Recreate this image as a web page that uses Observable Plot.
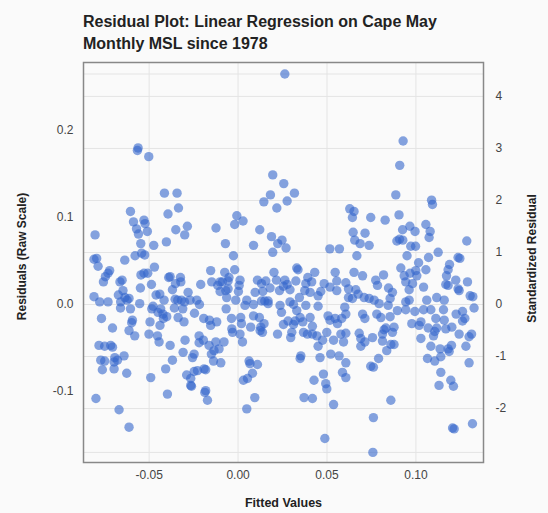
<!DOCTYPE html>
<html><head><meta charset="utf-8">
<script src="https://cdn.jsdelivr.net/npm/d3@7"></script>
<script src="https://cdn.jsdelivr.net/npm/@observablehq/plot@0.6"></script>
<style>
body{margin:0;background:#fafafa;font-family:"Liberation Sans",Arial,sans-serif;}
#title{position:absolute;left:83px;top:11px;font-size:16px;font-weight:bold;line-height:22px;color:#222;}
#chart{position:absolute;left:0;top:54px;}
</style></head><body>
<div id="title">Residual Plot: Linear Regression on Cape May<br>Monthly MSL since 1978</div>
<div id="chart"></div>
<script>
// [fitted value, residual] pairs
const residualPoints = [
[-0.0562,0.180],[-0.0566,0.177],[-0.0502,0.170],[-0.0414,0.128],[-0.0343,0.128],[0.0263,0.265],[0.0195,0.149],[0.0257,0.139],[0.0182,0.126],[0.0317,0.128],[0.0145,0.118],[0.0276,0.119],[0.0218,0.111],[0.0928,0.188],[0.0909,0.160],[0.0887,0.126],[0.1088,0.120],
[-0.0335,0.111],[-0.0605,0.107],[-0.0394,0.104],[-0.0804,0.080],[-0.0588,0.095],[-0.0529,0.097],[-0.0523,0.093],[-0.0571,0.087],[-0.0560,0.081],[-0.0510,0.084],[-0.0285,0.090],[-0.0350,0.086],[-0.0300,0.080],[-0.0124,0.088],[-0.0547,0.070],[-0.0474,0.068],[-0.0403,0.072],[-0.0542,0.059],[-0.0525,0.057],[-0.0579,0.056],[-0.0637,0.051],[-0.0810,0.052],[-0.0795,0.053],[-0.0787,0.044],[-0.0470,0.043],[-0.0722,0.039],[-0.0731,0.036],[-0.0529,0.036],[-0.0508,0.036],[-0.0546,0.034],[-0.0154,0.039],[-0.0746,0.032],[-0.0757,0.026],[-0.0382,0.032],[-0.0390,0.031],[-0.0324,0.031],[-0.0652,0.028],[-0.0664,0.026],[-0.0148,0.026],[-0.0101,0.026],[-0.0114,0.022],[-0.0210,0.023],[-0.0487,0.023],[-0.0352,0.024],[-0.0369,0.017],[-0.0322,0.026],[-0.0549,0.019],[-0.0647,0.016],[-0.0440,0.012],[-0.0461,0.011],[-0.0281,0.014],[-0.0101,0.015],[-0.0810,0.009],[-0.0778,0.003],[-0.0731,0.003],[-0.0673,0.011],[-0.0636,0.008],[-0.0624,0.005],[-0.0613,0.007],[-0.0660,0.003],[-0.0553,0.001],[-0.0416,0.005],[-0.0354,0.006],[-0.0339,0.005],[-0.0318,0.005],[-0.0301,0.003],[-0.0270,0.005],[-0.0232,0.005],[-0.0217,0.000],[-0.0478,-0.002],[-0.0485,-0.005],[-0.0435,-0.005],[-0.0450,-0.009],[-0.0422,-0.011],[-0.0661,-0.004],[-0.0605,-0.005],[-0.0358,-0.004],[-0.0311,-0.005],[-0.0245,-0.010],[-0.0193,-0.016],[-0.0161,-0.018],[-0.0120,-0.020],[-0.0401,-0.014],[-0.0337,-0.015],[-0.0420,-0.016],[-0.0768,-0.016],[-0.0594,-0.018],[-0.0598,-0.021],[-0.0706,-0.027],[-0.0613,-0.030],[-0.0495,-0.020],
[-0.0007,0.102],[-0.0019,0.092],[0.0028,0.096],[0.0122,0.086],[0.0188,0.078],[0.0223,0.070],[0.0247,0.074],[0.0270,0.065],[-0.0071,0.070],[0.0087,0.068],[0.0195,0.060],[-0.0026,0.056],[0.0516,0.064],[0.0570,0.064],[0.0330,0.042],[0.0337,0.040],[-0.0075,0.037],[-0.0019,0.040],[0.0202,0.037],[0.0431,0.037],[0.0546,0.037],[-0.0088,0.026],[-0.0051,0.031],[-0.0056,0.027],[0.0011,0.028],[0.0109,0.028],[0.0156,0.027],[0.0216,0.028],[0.0263,0.028],[0.0276,0.023],[0.0325,0.027],[0.0392,0.031],[0.0414,0.026],[0.0381,0.024],[0.0555,0.027],[0.0484,0.024],[0.0517,0.020],[0.0555,0.016],[-0.0056,0.018],[-0.0069,0.016],[0.0006,0.022],[0.0002,0.015],[0.0132,0.024],[0.0180,0.019],[0.0096,0.014],[0.0139,0.015],[0.0233,0.016],[0.0255,0.021],[0.0292,0.017],[0.0375,0.016],[0.0405,0.014],[0.0450,0.010],[0.0465,0.015],[0.0606,0.025],[0.0621,0.018],[-0.0064,0.008],[-0.0013,0.005],[0.0049,0.005],[0.0039,-0.001],[0.0087,0.000],[0.0169,0.004],[0.0169,0.001],[0.0132,0.004],[0.0150,0.004],[0.0292,0.003],[0.0312,0.000],[0.0345,0.008],[0.0381,-0.001],[0.0330,-0.007],[0.0349,-0.015],[0.0450,-0.002],[0.0600,-0.003],[0.0621,0.008],[-0.0067,-0.005],[0.0015,-0.015],[-0.0037,-0.016],[0.0087,-0.013],[0.0120,-0.015],[0.0244,-0.009],[0.0236,-0.001],[0.0071,-0.026],[0.0146,-0.022],[0.0128,-0.026],[0.0255,-0.023],[0.0312,-0.023],[0.0281,-0.019],[0.0321,-0.019],[0.0405,-0.015],[0.0364,-0.020],[0.0418,-0.025],[-0.0035,-0.028],[0.0506,-0.013],[0.0517,-0.018],[0.0546,-0.016],[0.0583,-0.016],[0.0559,-0.022],[0.0606,-0.011],
[0.1093,0.115],[0.0628,0.110],[0.0652,0.107],[0.0643,0.100],[0.0746,0.100],[0.0827,0.097],[0.0905,0.103],[0.0647,0.083],[0.0714,0.082],[0.0656,0.074],[0.0686,0.070],[0.0737,0.068],[0.0925,0.086],[0.0966,0.090],[0.0995,0.084],[0.1056,0.092],[0.1080,0.084],[0.1074,0.077],[0.0893,0.073],[0.0908,0.075],[0.0926,0.074],[0.0971,0.067],[0.0998,0.067],[0.1286,0.073],[0.0668,0.056],[0.0950,0.056],[0.1125,0.060],[0.1071,0.054],[0.1237,0.054],[0.1247,0.053],[0.1015,0.048],[0.0999,0.039],[0.0967,0.036],[0.1005,0.033],[0.1056,0.040],[0.0915,0.042],[0.1189,0.046],[0.1181,0.040],[0.1172,0.033],[0.0652,0.037],[0.0700,0.033],[0.0818,0.034],[0.0774,0.028],[0.0784,0.022],[0.0934,0.033],[0.0943,0.026],[0.0981,0.024],[0.1224,0.028],[0.1290,0.026],[0.0662,0.017],[0.0675,0.012],[0.0846,0.019],[0.0868,0.014],[0.0855,0.007],[0.0844,-0.001],[0.1043,0.020],[0.0962,0.017],[0.0962,0.005],[0.0943,0.003],[0.1168,0.023],[0.1181,0.022],[0.1237,0.018],[0.1243,0.016],[0.1305,0.010],[0.1320,0.009],[0.0709,0.008],[0.0737,0.007],[0.0765,0.005],[0.0793,0.001],[0.0643,0.007],[0.1061,0.005],[0.1117,0.008],[0.1159,0.005],[0.0700,-0.011],[0.0713,-0.016],[0.0780,-0.011],[0.0803,-0.015],[0.0855,-0.014],[0.0896,-0.007],[0.0943,-0.006],[0.0994,-0.008],[0.1043,-0.006],[0.1084,-0.006],[0.1112,-0.016],[0.1155,-0.006],[0.1226,-0.011],[0.1262,-0.008],[0.1275,-0.016],[0.1262,-0.019],[0.1327,-0.004],[0.0977,-0.022],[0.1028,-0.020],[0.1018,-0.024],[0.1069,-0.027],[0.1117,-0.027],[0.0831,-0.027],[0.0877,-0.026],[0.1202,-0.026],
[-0.0439,-0.024],[-0.0304,-0.020],[-0.0154,-0.024],[-0.0581,-0.036],[-0.0501,-0.034],[-0.0453,-0.036],[-0.0444,-0.043],[-0.0382,-0.047],[-0.0298,-0.041],[-0.0219,-0.036],[-0.0219,-0.044],[-0.0195,-0.041],[-0.0163,-0.047],[-0.0125,-0.043],[-0.0135,-0.053],[-0.0150,-0.057],[-0.0138,-0.065],[-0.0782,-0.047],[-0.0750,-0.048],[-0.0716,-0.047],[-0.0706,-0.049],[-0.0772,-0.064],[-0.0750,-0.065],[-0.0693,-0.061],[-0.0678,-0.064],[-0.0641,-0.059],[-0.0697,-0.066],[-0.0763,-0.075],[-0.0697,-0.074],[-0.0309,-0.055],[-0.0247,-0.057],[-0.0256,-0.061],[-0.0369,-0.064],[-0.0407,-0.074],[-0.0626,-0.079],[-0.0491,-0.084],[-0.0289,-0.081],[-0.0266,-0.085],[-0.0247,-0.077],[-0.0228,-0.076],[-0.0191,-0.074],[-0.0182,-0.075],[-0.0266,-0.093],[-0.0262,-0.094],[-0.0182,-0.099],[-0.0187,-0.101],[-0.0172,-0.110],[-0.0397,-0.103],[-0.0799,-0.108],[-0.0669,-0.121],[-0.0613,-0.141],
[-0.0031,-0.032],[0.0011,-0.034],[0.0025,-0.043],[0.0124,-0.030],[0.0137,-0.032],[0.0222,-0.034],[0.0019,-0.022],[0.0296,-0.038],[0.0302,-0.032],[0.0368,-0.032],[0.0390,-0.034],[0.0418,-0.034],[0.0443,-0.036],[0.0475,-0.041],[0.0450,-0.048],[0.0499,-0.032],[0.0537,-0.041],[0.0578,-0.034],[0.0606,-0.033],[0.0593,-0.043],[-0.0107,-0.051],[-0.0079,-0.043],[-0.0097,-0.067],[0.0353,-0.059],[0.0349,-0.062],[0.0461,-0.061],[0.0521,-0.057],[0.0568,-0.059],[0.0606,-0.067],[0.0587,-0.078],[0.0606,-0.084],[0.0062,-0.065],[0.0067,-0.068],[0.0109,-0.069],[0.0081,-0.079],[0.0053,-0.085],[0.0030,-0.087],[0.0427,-0.087],[0.0480,-0.080],[0.0493,-0.091],[0.0499,-0.097],[0.0094,-0.107],[0.0049,-0.120],[0.0371,-0.107],[0.0418,-0.108],[0.0537,-0.115],[0.0488,-0.154],
[0.1159,-0.018],[0.0681,-0.033],[0.0690,-0.039],[0.0713,-0.043],[0.0690,-0.048],[0.0756,-0.038],[0.0821,-0.029],[0.0812,-0.034],[0.0868,-0.032],[0.0812,-0.042],[0.0859,-0.046],[0.0877,-0.046],[0.0836,-0.053],[0.1028,-0.039],[0.1099,-0.036],[0.1106,-0.031],[0.1168,-0.028],[0.1243,-0.034],[0.1299,-0.037],[0.1313,-0.034],[0.1281,-0.048],[0.1084,-0.048],[0.1136,-0.051],[0.1181,-0.051],[0.1200,-0.047],[0.1187,-0.054],[0.1065,-0.062],[0.1106,-0.065],[0.1140,-0.060],[0.0790,-0.062],[0.0746,-0.071],[0.0761,-0.072],[0.1299,-0.067],[0.1140,-0.078],[0.1196,-0.087],[0.1211,-0.094],[0.1130,-0.093],[0.0859,-0.110],[0.0761,-0.130],[0.1206,-0.142],[0.1215,-0.143],[0.1318,-0.137],[0.0758,-0.170]
];
const xTicks = [-0.05, 0.00, 0.05, 0.10];
const yTicks = [-0.1, 0.0, 0.1, 0.2];
const stdTicks = [-2, -1, 0, 1, 2, 3, 4];
const residualSD = 0.0598;
const xDomain = [-0.0869, 0.138];
const yDomain = [-0.1816, 0.2782];

const grid = "#e4e4e4";
const tickStyle = {tickSize: 0, fontSize: 12, fill: "#444", stroke: "none", label: null};
const chart = Plot.plot({
  width: 548, height: 459,
  marginTop: 8, marginBottom: 51, marginLeft: 83, marginRight: 65,
  style: {background: "transparent", color: "#444", fontFamily: "'Liberation Sans', Arial, sans-serif"},
  x: {domain: xDomain},
  y: {domain: yDomain},
  marks: [
    Plot.gridX(xTicks, {stroke: grid, strokeOpacity: 1}),
    Plot.gridY(stdTicks.map(s => s * residualSD), {stroke: grid, strokeOpacity: 1}),
    Plot.ruleY(d3.extent(residualPoints, d => d[1]), {stroke: grid}),
    Plot.dot(residualPoints, {x: d => d[0], y: d => d[1], r: 4.7, fill: "#3366cc", fillOpacity: 0.6, stroke: "none"}),
    Plot.frame({stroke: "#888", strokeWidth: 1.5}),
    Plot.axisY(yTicks, {...tickStyle, anchor: "left", tickPadding: 10, tickFormat: d => d.toFixed(1)}),
    Plot.axisY(stdTicks.map(s => s * residualSD), {...tickStyle, anchor: "right", tickPadding: 12, tickFormat: v => String(Math.round(v / residualSD))}),
    Plot.axisX(xTicks, {...tickStyle, anchor: "bottom", tickPadding: 8, tickFormat: d => d.toFixed(2)}),
    Plot.text(["Residuals (Raw Scale)"], {text: d => d, frameAnchor: "left", dx: -61, dy: -6, rotate: -90, textAnchor: "middle", lineAnchor: "middle", fontSize: 12, fontWeight: "bold", fill: "#222"}),
    Plot.text(["Standardized Residual"], {text: d => d, frameAnchor: "right", dx: 49, dy: -4, rotate: -90, textAnchor: "middle", lineAnchor: "middle", fontSize: 12, fontWeight: "bold", fill: "#222"}),
    Plot.text(["Fitted Values"], {text: d => d, frameAnchor: "bottom", dy: 40, textAnchor: "middle", lineAnchor: "middle", fontSize: 12.5, fontWeight: "bold", fill: "#222"})
  ]
});
document.getElementById("chart").appendChild(chart);
</script>
</body></html>
